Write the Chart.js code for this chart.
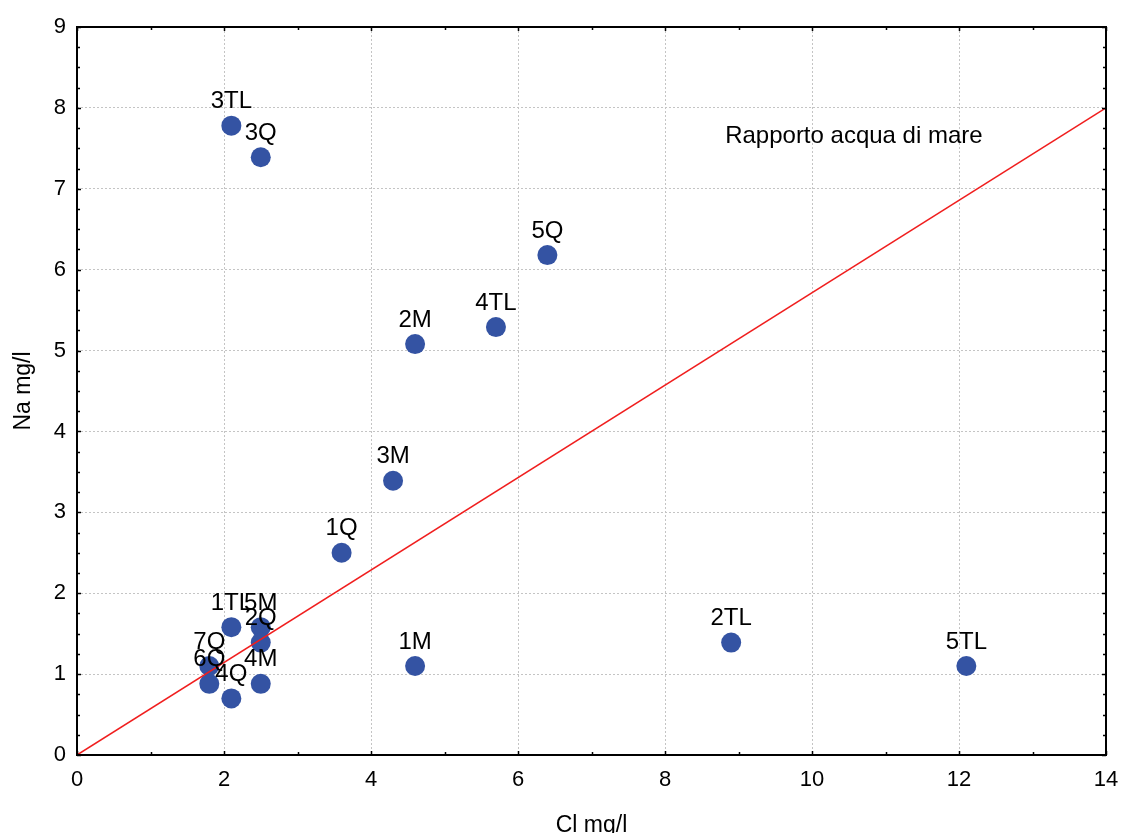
<!DOCTYPE html>
<html>
<head>
<meta charset="utf-8">
<title>Na / Cl</title>
<script src="https://cdn.jsdelivr.net/npm/chart.js@4.4.1/dist/chart.umd.min.js"></script>
<style>
  html, body { margin: 0; padding: 0; background: #fff; }
  #wrap { width: 1121px; height: 833px; position: relative; }
</style>
</head>
<body>
<div id="wrap"><canvas id="naClChart"></canvas></div>
<script>
// Sample codes with chloride (x) and sodium (y), mg/l
const sampleLabels = ['3TL', '3Q', '5Q', '4TL', '2M', '3M', '1Q', '1TL', '5M', '2Q', '7Q', '6Q', '4Q', '4M', '1M', '2TL', '5TL'];
const clValues = [2.1, 2.5, 6.4, 5.7, 4.6, 4.3, 3.6, 2.1, 2.5, 2.5, 1.8, 1.8, 2.1, 2.5, 4.6, 8.9, 12.1];
const naValues = [7.78, 7.39, 6.18, 5.29, 5.08, 3.39, 2.5, 1.58, 1.58, 1.39, 1.1, 0.88, 0.7, 0.88, 1.1, 1.39, 1.1];

// Seawater ratio line
const seaCl = [0, 14];
const seaNa = [0, 8];
const seaLabel = 'Rapporto acqua di mare';
const seaLabelPos = { x: 10.57, y: 7.65 };

// Axis ticks
const xTicks = [0, 2, 4, 6, 8, 10, 12, 14];
const yTicks = [0, 1, 2, 3, 4, 5, 6, 7, 8, 9];

const FONT = 'Liberation Sans, Arial, sans-serif';

// box around the plot with small inward ticks on every side
const framePlugin = {
  id: 'frame',
  afterDatasetsDraw(chart) {
    const { ctx, chartArea: a, scales: { x, y } } = chart;
    ctx.save();
    ctx.strokeStyle = '#000';
    ctx.lineWidth = 1.5;
    ctx.beginPath();
    for (let v = xTicks[0]; v <= xTicks[xTicks.length - 1]; v += 1) {
      const px = Math.round(x.getPixelForValue(v)) + 0.5;
      const len = v % 2 === 0 ? 4 : 3;
      ctx.moveTo(px, a.bottom); ctx.lineTo(px, a.bottom - len);
      ctx.moveTo(px, a.top); ctx.lineTo(px, a.top + len);
    }
    for (let v = yTicks[0]; v <= yTicks[yTicks.length - 1]; v += 0.25) {
      const py = Math.round(y.getPixelForValue(v)) + 0.5;
      const len = v % 1 === 0 ? 4 : 3;
      ctx.moveTo(a.left, py); ctx.lineTo(a.left + len, py);
      ctx.moveTo(a.right, py); ctx.lineTo(a.right - len, py);
    }
    ctx.stroke();
    ctx.lineWidth = 2;
    ctx.strokeRect(a.left, a.top, a.width, a.height);
    ctx.restore();
  }
};

// sample codes above each dot, plus the seawater note
const labelPlugin = {
  id: 'pointLabels',
  afterDraw(chart) {
    const { ctx, scales: { x, y } } = chart;
    const meta = chart.getDatasetMeta(1);
    ctx.save();
    ctx.fillStyle = '#000';
    ctx.font = '24px ' + FONT;
    ctx.textAlign = 'center';
    ctx.textBaseline = 'middle';
    meta.data.forEach((pt, i) => {
      ctx.fillText(sampleLabels[i], pt.x, pt.y - 24);
    });
    ctx.fillText(seaLabel, x.getPixelForValue(seaLabelPos.x), y.getPixelForValue(seaLabelPos.y));
    ctx.restore();
  }
};

const ctx = document.getElementById('naClChart');
new Chart(ctx, {
  type: 'scatter',
  data: {
    datasets: [
      {
        type: 'line',
        label: seaLabel,
        data: seaCl.map((c, i) => ({ x: c, y: seaNa[i] })),
        borderColor: 'rgb(240, 30, 30)',
        borderWidth: 1.5,
        pointRadius: 0,
        fill: false,
        order: 0
      },
      {
        label: 'Campioni',
        data: clValues.map((c, i) => ({ x: c, y: naValues[i] })),
        backgroundColor: 'rgb(52, 83, 163)',
        borderWidth: 0,
        pointRadius: 10,
        order: 1
      }
    ]
  },
  options: {
    responsive: true,
    maintainAspectRatio: false,
    animation: false,
    layout: { padding: { top: 27, right: 15, left: 0, bottom: 0 } },
    plugins: {
      legend: { display: false },
      tooltip: { enabled: false }
    },
    scales: {
      x: {
        type: 'linear',
        min: 0,
        max: 14,
        afterBuildTicks: s => { s.ticks = xTicks.map(v => ({ value: v })); },
        afterFit: s => { s.height = 78; s.paddingLeft = 0; s.paddingRight = 0; },
        ticks: { color: '#000', font: { family: FONT, size: 22 }, padding: 12 },
        grid: { color: '#c4c4c4', lineWidth: 1, drawTicks: false },
        border: { display: false, dash: [2, 2] },
        title: {
          display: true,
          text: 'Cl mg/l',
          color: '#000',
          font: { family: FONT, size: 23, lineHeight: 1 },
          padding: { top: 0, bottom: -4 }
        }
      },
      y: {
        type: 'linear',
        min: 0,
        max: 9,
        afterBuildTicks: s => { s.ticks = yTicks.map(v => ({ value: v })); },
        afterFit: s => { s.width = 77; s.paddingTop = 0; s.paddingBottom = 0; },
        ticks: { color: '#000', font: { family: FONT, size: 22 }, padding: 11 },
        grid: { color: '#c4c4c4', lineWidth: 1, drawTicks: false },
        border: { display: false, dash: [2, 2] },
        title: {
          display: true,
          text: 'Na mg/l',
          color: '#000',
          font: { family: FONT, size: 23, lineHeight: 1 },
          padding: { top: 12, bottom: 0 }
        }
      }
    }
  },
  plugins: [framePlugin, labelPlugin]
});
</script>
</body>
</html>
